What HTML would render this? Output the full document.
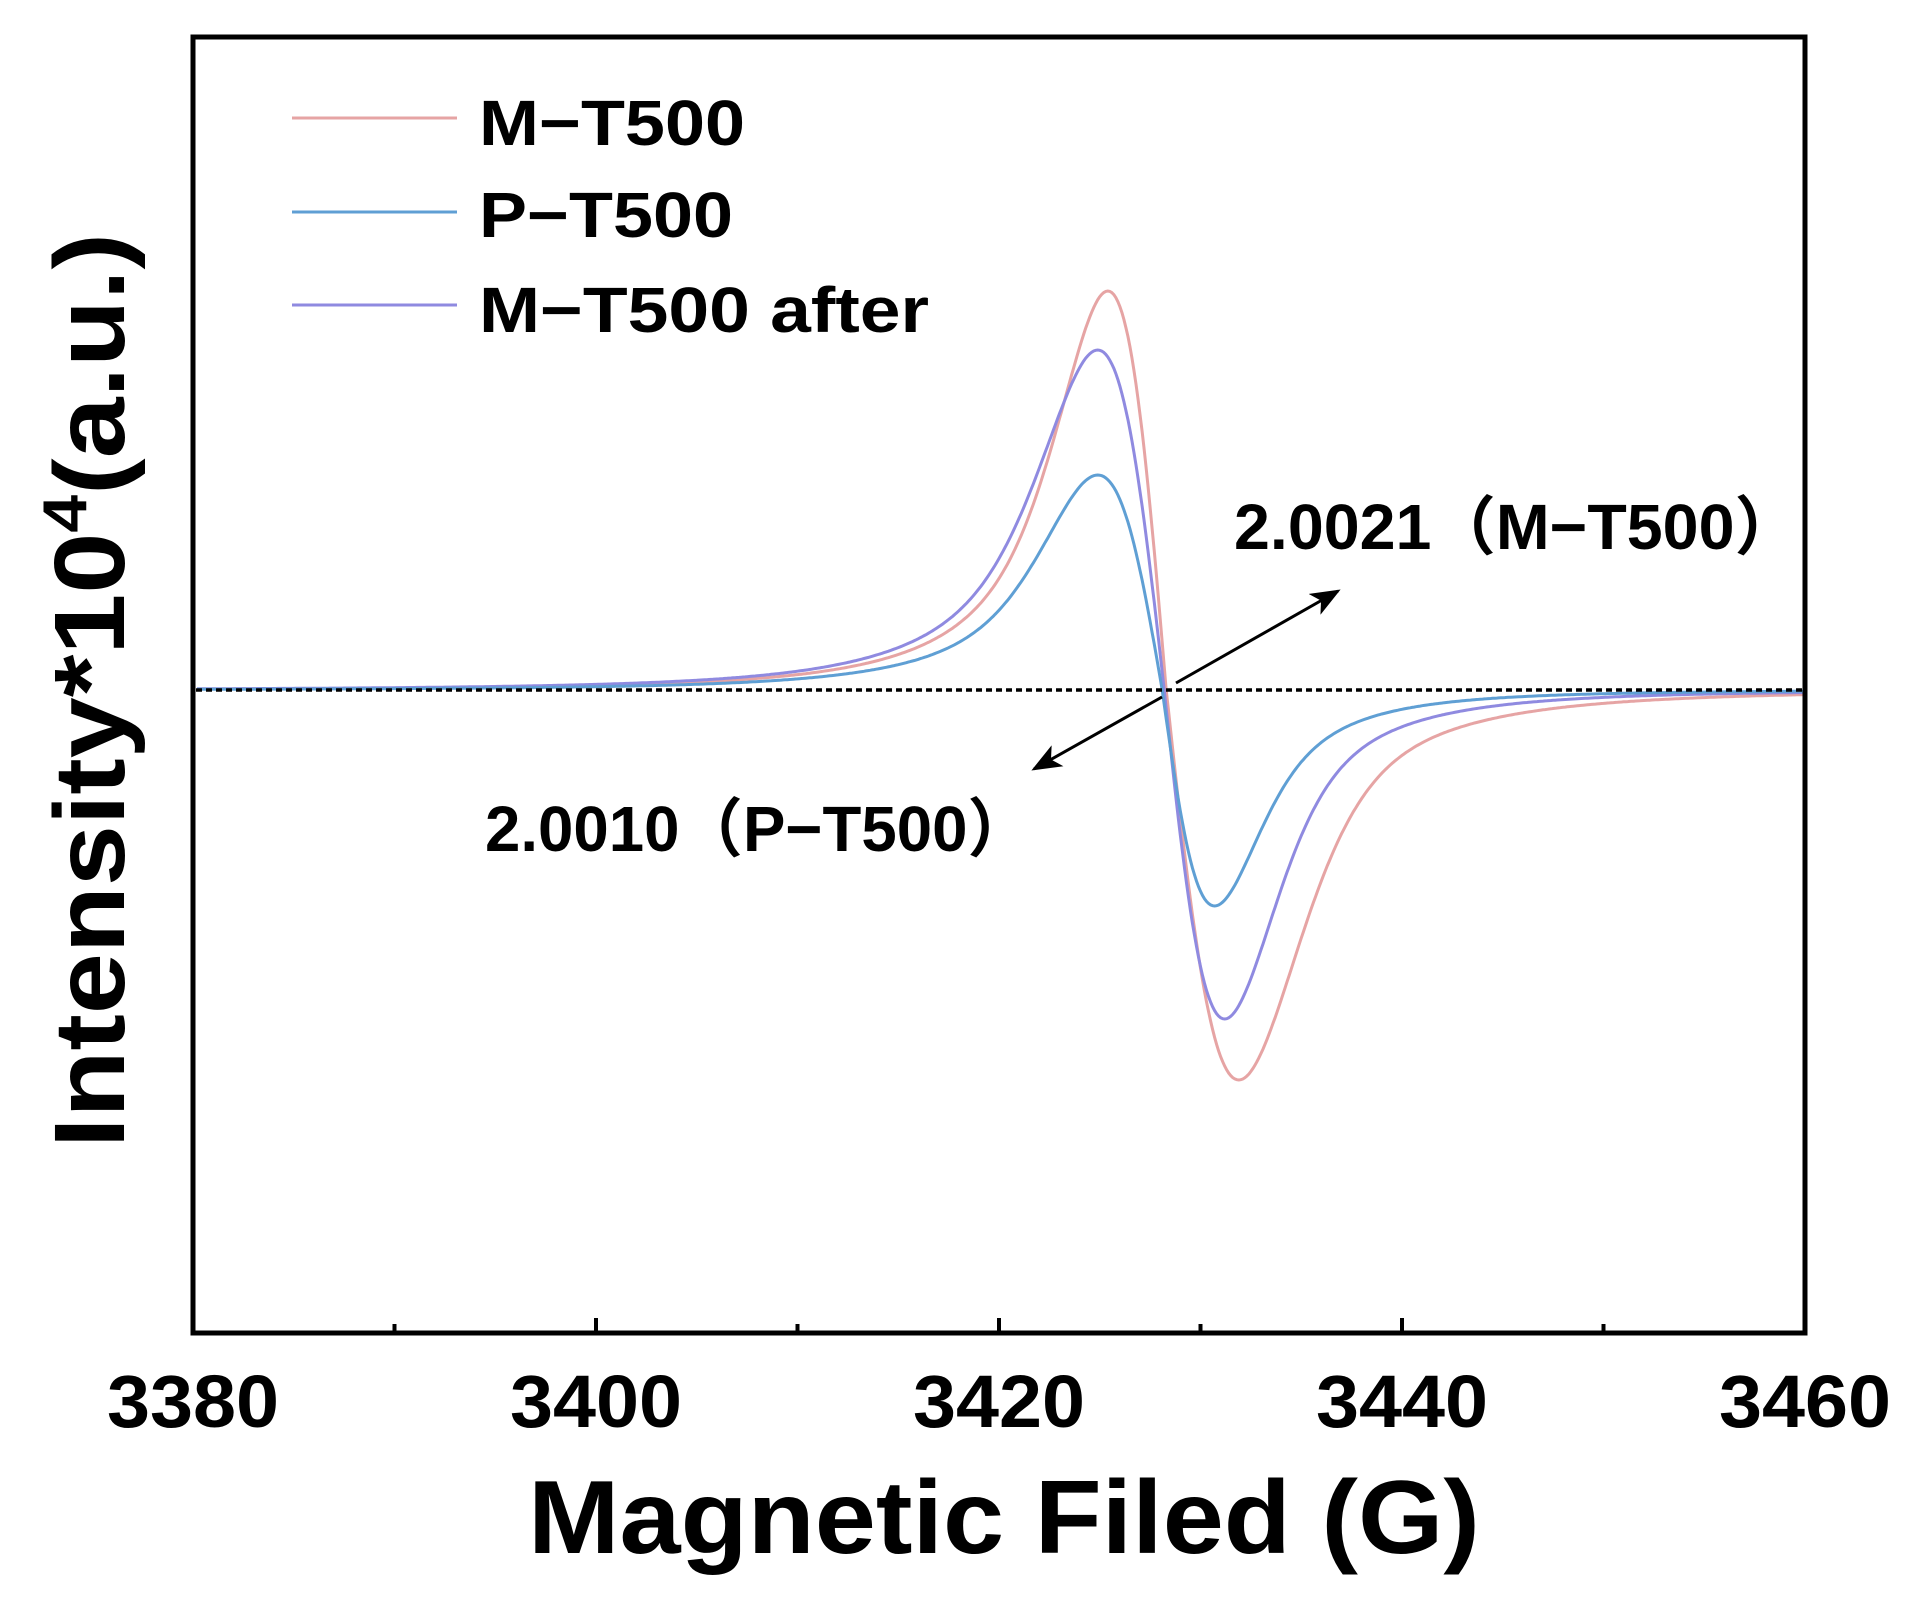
<!DOCTYPE html>
<html><head><meta charset="utf-8"><style>
html,body{margin:0;padding:0;background:#fff;}
svg{display:block;}
text{font-family:"Liberation Sans","Noto Sans CJK SC",sans-serif;font-weight:bold;fill:#000;}
</style></head><body>
<svg id="s" width="1919" height="1610" viewBox="0 0 1919 1610" xmlns="http://www.w3.org/2000/svg">
<defs>
<marker id="ah" markerWidth="10" markerHeight="8" refX="9" refY="4" orient="auto" markerUnits="strokeWidth">
<path d="M0,0 L10,4 L0,8 L2.5,4 z" fill="#000"/>
</marker>
</defs>
<g id="curves" fill="none" stroke-width="3"></g>
<line x1="196" y1="690" x2="1805" y2="690" stroke="#000" stroke-width="3.5" stroke-dasharray="6,4"/>
<line x1="1176" y1="683" x2="1338" y2="591" stroke="#000" stroke-width="3" marker-end="url(#ah)"/>
<line x1="1162" y1="697" x2="1034" y2="769" stroke="#000" stroke-width="3" marker-end="url(#ah)"/>
<rect x="193" y="37" width="1612" height="1296" fill="none" stroke="#000" stroke-width="5"/>
<g id="ticks" stroke="#000" stroke-width="4"></g>
<g font-size="74" text-anchor="middle">
<text x="193" y="1427" textLength="172" lengthAdjust="spacingAndGlyphs">3380</text>
<text x="596" y="1427" textLength="172" lengthAdjust="spacingAndGlyphs">3400</text>
<text x="999" y="1427" textLength="172" lengthAdjust="spacingAndGlyphs">3420</text>
<text x="1402" y="1427" textLength="172" lengthAdjust="spacingAndGlyphs">3440</text>
<text x="1805" y="1427" textLength="172" lengthAdjust="spacingAndGlyphs">3460</text>
</g>
<text x="528" y="1553" font-size="104" textLength="952" lengthAdjust="spacingAndGlyphs">Magnetic Filed (G)</text>
<text transform="translate(124,1148) rotate(-90)" font-size="100" textLength="915" lengthAdjust="spacingAndGlyphs">Intensity*10<tspan dy="-38" font-size="62">4</tspan><tspan dy="38">(a.u.)</tspan></text>
<line x1="292" y1="118" x2="457" y2="118" stroke="#e6a4a4" stroke-width="3"/>
<line x1="292" y1="212" x2="457" y2="212" stroke="#5f9fd4" stroke-width="3"/>
<line x1="292" y1="305" x2="457" y2="305" stroke="#8f8ae0" stroke-width="3"/>
<g font-size="64">
<text x="479" y="145" textLength="266" lengthAdjust="spacingAndGlyphs">M−T500</text>
<text x="479" y="237" textLength="254" lengthAdjust="spacingAndGlyphs">P−T500</text>
<text x="479" y="332" textLength="450" lengthAdjust="spacingAndGlyphs">M−T500 after</text>
<text x="1234" y="549" textLength="565" lengthAdjust="spacingAndGlyphs">2.0021（M−T500）</text>
<text x="485" y="851" textLength="546" lengthAdjust="spacingAndGlyphs">2.0010（P−T500）</text>
</g>
</svg>
<script>
var NS="http://www.w3.org/2000/svg";
function X(v){return 193+(v-3380)*20.15;}
function shape(d,dp,mix){var u=Math.abs(d)/dp;var G=u*Math.exp((1-u*u)/2);var L=16*u/Math.pow(u*u+3,2);return mix*G+(1-mix)*L;}
var series=[
 {c:"#e6a4a4",x0:3428.3,dl:2.9,dr:3.6,al:399,ar:390,ml:0.3,mr:0.45},
 {c:"#8f8ae0",x0:3428.2,dl:3.3,dr:3.0,al:340,ar:329,ml:0.3,mr:0.4},
 {c:"#5f9fd4",x0:3428.1,dl:3.2,dr:2.6,al:215,ar:216,ml:0.3,mr:0.3}
];
var g=document.getElementById("curves");
series.forEach(function(s){
 var p="";
 for(var v=3380.2;v<=3459.9;v+=0.1){
  var d=v-s.x0,y;
  if(d<0){y=690-s.al*shape(d,s.dl,s.ml);}else{y=690+s.ar*shape(d,s.dr,s.mr);}
  p+=(p?"L":"M")+X(v).toFixed(1)+","+y.toFixed(1);
 }
 var e=document.createElementNS(NS,"path");e.setAttribute("d",p);e.setAttribute("stroke",s.c);g.appendChild(e);
});
var t=document.getElementById("ticks");
for(var v=3390;v<3460;v+=10){
 var e=document.createElementNS(NS,"line");var x=X(v);
 e.setAttribute("x1",x);e.setAttribute("x2",x);e.setAttribute("y1",1333);e.setAttribute("y2",(v%20==0)?1318:1324);t.appendChild(e);
}
</script>
</body></html>
